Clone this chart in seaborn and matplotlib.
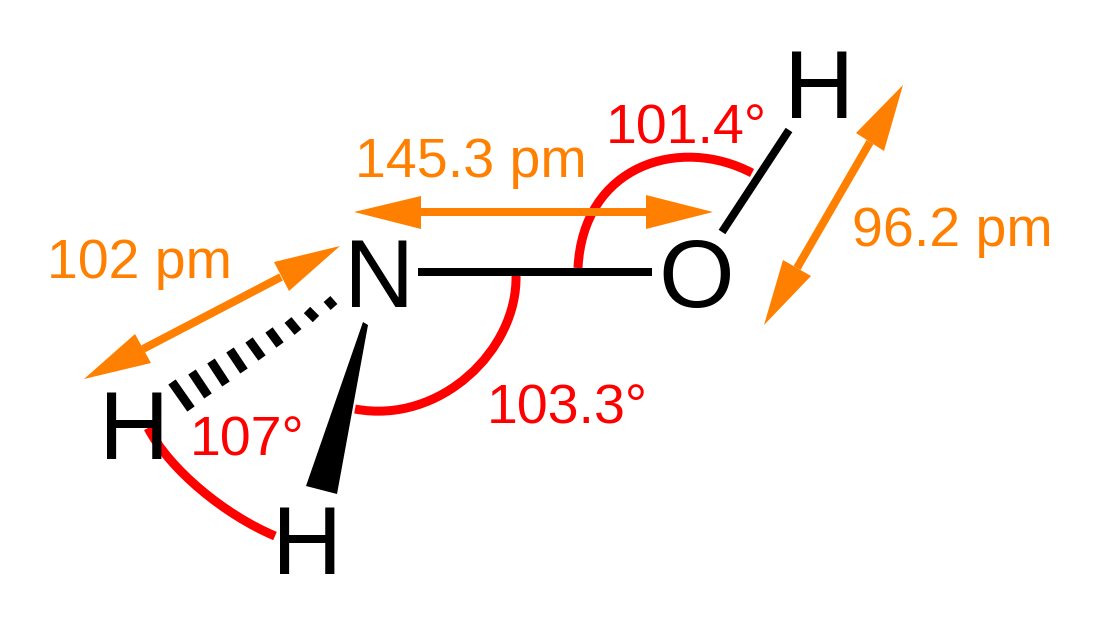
import matplotlib
matplotlib.use("Agg")
import matplotlib.pyplot as plt
from matplotlib.path import Path
from matplotlib.patches import PathPatch
import pandas as pd
import seaborn as sns

sns.set_theme(style="white")
plt.rcParams['font.family'] = ['Liberation Sans', 'DejaVu Sans']

BLACK, RED, ORANGE = "#000000", "#FF0000", "#FF8000"
PX = 72 / 100  # pixel to point at 100 dpi

# atoms: symbol, centre x, baseline y
atoms = ["N", "O", "H", "H", "H"]
atom_x = [379, 696, 819, 134.5, 307.5]
atom_y = [307, 307, 118, 459, 574]

# labels
angle_labels = ["101.4°", "103.3°", "107°"]
angle_x = [686, 567, 247.5]
angle_y = [143, 423, 456]
length_labels = ["145.3 pm", "102 pm", "96.2 pm"]
length_x = [471, 139, 952]
length_y = [177, 278, 246]

# bonds (from, to)
bond_x = [[418, 652], [722, 789]]
bond_y = [[272, 272], [232, 130]]

# hashed bond strokes
hash_x = [[172, 191], [192, 208], [211, 226], [230, 244], [249, 262],
          [269, 280], [288, 298], [307, 316], [327, 334]]
hash_y = [[382, 409], [372, 396], [361, 384], [350, 371], [340, 358],
          [330, 345], [320, 332], [310, 319], [299, 307]]

# solid wedge
wedge_x = [363, 368, 337, 306]
wedge_y = [322, 325, 494, 486]

# angle arcs as cubic control points
arc_x = [[578, 583, 680, 752], [516, 518, 440, 355], [148, 170, 225, 275]]
arc_y = [[268, 165, 135, 173], [275, 350, 425, 409], [428, 470, 515, 536]]

# double arrows: shaft ends
shaft_x = [[415, 650], [143, 281], [797, 870]]
shaft_y = [[212, 212], [349, 277], [268, 142]]
# arrow heads: tip, barb, barb
head_x = [[354, 421, 421], [713, 646, 646], [340, 274, 289],
          [84, 135, 151], [903, 856, 884], [764, 783, 811]]
head_y = [[212, 196, 229], [212, 195, 229], [246, 262, 291],
          [379, 334, 363], [85, 133, 151], [325, 260, 276]]

fig = plt.figure(figsize=(11, 6.25), dpi=100, facecolor="white")
ax = fig.add_axes([0, 0, 1, 1])


def long_form(xs, ys):
    rows = [(i, x, y) for i, (sx, sy) in enumerate(zip(xs, ys))
            for x, y in zip(sx, sy)]
    return pd.DataFrame(rows, columns=["seg", "x", "y"])


# red arcs
for xs, ys in zip(arc_x, arc_y):
    verts = list(zip(xs, ys))
    path = Path(verts, [Path.MOVETO, Path.CURVE4, Path.CURVE4, Path.CURVE4])
    ax.add_patch(PathPatch(path, fill=False, edgecolor=RED, lw=9 * PX,
                           capstyle="butt", zorder=1))

# orange arrows
sns.lineplot(data=long_form(shaft_x, shaft_y), x="x", y="y", units="seg",
             estimator=None, sort=False, color=ORANGE, lw=8 * PX, ax=ax,
             legend=False, solid_capstyle="butt", zorder=2)
for xs, ys in zip(head_x, head_y):
    ax.fill(xs, ys, color=ORANGE, lw=0, zorder=2)

# black bonds
sns.lineplot(data=long_form(bond_x, bond_y), x="x", y="y", units="seg",
             estimator=None, sort=False, color=BLACK, lw=8 * PX, ax=ax,
             legend=False, solid_capstyle="butt", zorder=3)
sns.lineplot(data=long_form(hash_x, hash_y), x="x", y="y", units="seg",
             estimator=None, sort=False, color=BLACK, lw=9 * PX, ax=ax,
             legend=False, solid_capstyle="butt", zorder=3)
ax.fill(wedge_x, wedge_y, color=BLACK, lw=0, zorder=3)
ax.set_xlim(0, 1100)
ax.set_ylim(625, 0)
ax.axis("off")

for s, x, y in zip(atoms, atom_x, atom_y):
    ax.text(x, y, s, color=BLACK, fontsize=70, ha="center", va="baseline", zorder=4)
for s, x, y in zip(angle_labels, angle_x, angle_y):
    ax.text(x, y, s, color=RED, fontsize=40, ha="center", va="baseline", zorder=4)
for s, x, y in zip(length_labels, length_x, length_y):
    ax.text(x, y, s, color=ORANGE, fontsize=40, ha="center", va="baseline", zorder=4)

fig.savefig("out.png", dpi=100, facecolor="white")
